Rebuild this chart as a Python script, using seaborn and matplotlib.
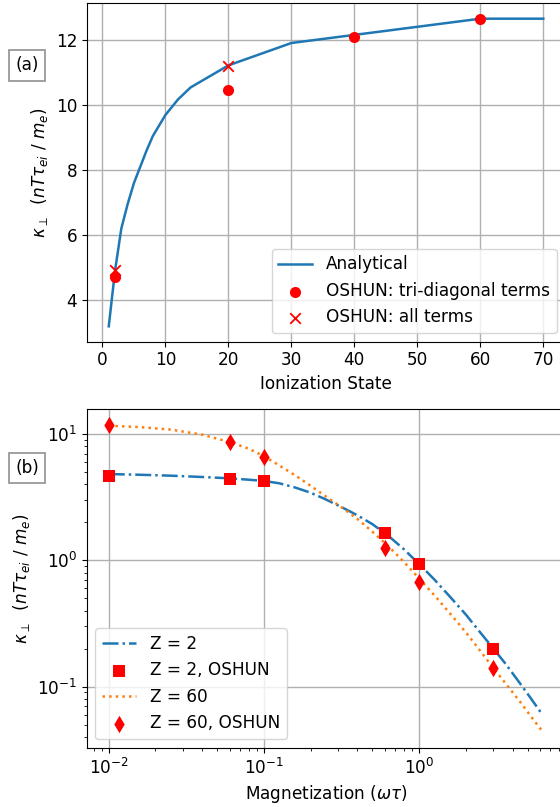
import matplotlib
matplotlib.use("Agg")
import matplotlib.pyplot as plt
import seaborn as sns

FS = 12.2
plt.rcParams["font.family"] = ["DejaVu Sans"]
plt.rcParams["font.size"] = FS
plt.rcParams["mathtext.fontset"] = "dejavusans"

# Panel (a): kappa_perp vs ionization state
z_analytic = [1, 2, 3, 4, 5, 6, 7, 8, 10, 12, 14, 20, 30, 60, 70]
kappa_analytic = [3.18, 4.9, 6.2, 6.95, 7.6, 8.1, 8.6, 9.05, 9.7, 10.18, 10.55, 11.23, 11.92, 12.67, 12.67]
z_tri = [2, 20, 40, 60]
kappa_tri = [4.69, 10.47, 12.12, 12.67]
z_all = [2, 20]
kappa_all = [4.92, 11.22]

# Panel (b): kappa_perp vs magnetization
wt_curve = [0.01, 0.0158, 0.0251, 0.0398, 0.06, 0.0794, 0.1, 0.126, 0.158, 0.2, 0.251,
            0.316, 0.398, 0.501, 0.631, 0.794, 1.0, 1.26, 1.58, 2.0, 2.51, 3.0, 3.63,
            4.47, 5.25, 6.25]
kappa_z2 = [4.82, 4.76, 4.68, 4.57, 4.46, 4.35, 4.25, 4.07, 3.78, 3.43, 3.03,
            2.64, 2.28, 1.93, 1.57, 1.23, 0.935, 0.70, 0.515, 0.372, 0.263, 0.201, 0.150,
            0.106, 0.0807, 0.0596]
kappa_z60 = [11.64, 11.35, 10.84, 9.89, 8.65, 7.67, 6.68, 5.62, 4.73, 3.89, 3.20,
             2.63, 2.14, 1.68, 1.30, 0.977, 0.719, 0.525, 0.380, 0.269, 0.188, 0.141, 0.105,
             0.0759, 0.0582, 0.0440]
wt_oshun = [0.01, 0.06, 0.1, 0.6, 1.0, 3.0]
kappa_z2_oshun = [4.65, 4.43, 4.25, 1.65, 0.93, 0.20]
kappa_z60_oshun = [11.8, 8.6, 6.54, 1.26, 0.677, 0.141]

fig = plt.figure(figsize=(5.6, 8.07), dpi=100)
ax1 = fig.add_axes([0.1554, 0.5766, 0.8536, 0.4193])
ax2 = fig.add_axes([0.1554, 0.0735, 0.8536, 0.4193])

# ---- panel (a)
sns.lineplot(x=z_analytic, y=kappa_analytic, ax=ax1, color="C0", lw=1.8,
             label="Analytical", sort=False, estimator=None)
sns.scatterplot(x=z_tri, y=kappa_tri, ax=ax1, color="red", marker="o", s=64,
                linewidth=0, label="OSHUN: tri-diagonal terms", zorder=3)
sns.scatterplot(x=z_all, y=kappa_all, ax=ax1, color="red", marker="x", s=58,
                linewidth=1.3, label="OSHUN: all terms", zorder=4)
ax1.set_xlim(-2.45, 73.45)
ax1.set_xticks([0, 10, 20, 30, 40, 50, 60, 70])
ax1.set_yticks([4, 6, 8, 10, 12])
ax1.set_xlabel("Ionization State")
ax1.set_ylabel(r"$\kappa_\perp$  $(nT\tau_{ei}$ / $m_e)$")
ax1.grid(True, color="#b0b0b0", lw=1.0)
ax1.set_axisbelow(True)
ax1.legend(loc="lower right", fontsize=FS)

# ---- panel (b)
sns.lineplot(x=wt_curve, y=kappa_z2, ax=ax2, color="C0", lw=1.8, linestyle="-.",
             label="Z = 2", sort=False, estimator=None)
sns.scatterplot(x=wt_oshun, y=kappa_z2_oshun, ax=ax2, color="red", marker="s", s=82,
                linewidth=0, label="Z = 2, OSHUN", zorder=3)
sns.lineplot(x=wt_curve, y=kappa_z60, ax=ax2, color="C1", lw=1.8, linestyle=":",
             label="Z = 60", sort=False, estimator=None)
sns.scatterplot(x=wt_oshun, y=kappa_z60_oshun, ax=ax2, color="red", marker="d", s=78,
                linewidth=0, label="Z = 60, OSHUN", zorder=3)
ax2.set_xscale("log")
ax2.set_yscale("log")
ax2.set_xlim(10 ** -2.14, 10 ** 0.94)
ax2.set_ylim(10 ** -1.483, 10 ** 1.1956)
ax2.set_xlabel(r"Magnetization ($\omega\tau$)")
ax2.set_ylabel(r"$\kappa_\perp$  $(nT\tau_{ei}$ / $m_e)$")
ax2.grid(True, which="major", color="#b0b0b0", lw=1.0)
ax2.set_axisbelow(True)
ax2.legend(loc="lower left", fontsize=FS)

for ax in (ax1, ax2):
    ax.tick_params(labelsize=FS)

box = dict(boxstyle="square,pad=0.38", facecolor="white", edgecolor="#999999", lw=1.3)
fig.text(0.048, 0.919, "(a)", ha="center", va="center", fontsize=FS, bbox=box)
fig.text(0.048, 0.42, "(b)", ha="center", va="center", fontsize=FS, bbox=box)

fig.savefig("out.png", dpi=100)
